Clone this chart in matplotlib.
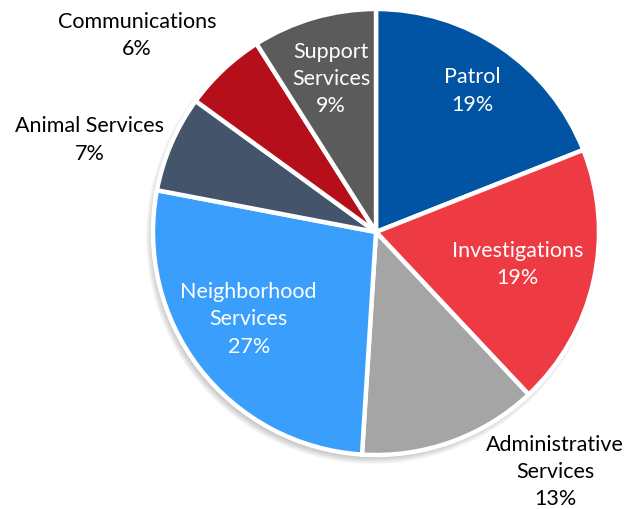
import numpy as np
import matplotlib.pyplot as plt
from matplotlib.patches import Circle

# slices, clockwise from 12 o'clock
names = ['Patrol', 'Investigations', 'Administrative\nServices', 'Neighborhood\nServices',
         'Animal Services', 'Communications', 'Support\nServices']
shares = [19, 19, 13, 27, 7, 6, 9]
colors = ['#0154A4', '#EE3A43', '#A5A5A5', '#3A9FFC', '#44546A', '#B40F1A', '#5B5B5B']

# label placement: fraction of radius, angle shift (deg), inside/outside
label_dist = [0.77, 0.65, 1.34, 0.69, 1.35, 1.39, 0.72]
label_shift = [0, 0, 17, -3.6, 5.4, 7.2, 0]
inside = [True, True, False, True, False, False, True]

W, H = 628, 510
cx, cy, R = 376, H - 233, 223

fig = plt.figure(figsize=(W / 100, H / 100), dpi=100)
ax = fig.add_axes([0, 0, 1, 1])

# soft drop shadow
for i in range(8):
    ax.add_patch(Circle((cx - 3, cy - 5), R + 4 - i * 1.2, color='black',
                        alpha=0.035, lw=0, zorder=0))

wedges, _ = ax.pie(shares, colors=colors, startangle=90, counterclock=False,
                   center=(cx, cy), radius=R, frame=True,
                   wedgeprops=dict(edgecolor='white', linewidth=3.2))
ax.set_xlim(0, W)
ax.set_ylim(0, H)
ax.set_aspect('equal')
ax.axis('off')

for w, n, s, d, sh, ins in zip(wedges, names, shares, label_dist, label_shift, inside):
    ang = np.deg2rad((w.theta1 + w.theta2) / 2 + sh)
    x = cx + R * d * np.cos(ang)
    y = cy + R * d * np.sin(ang)
    ax.text(x, y, f'{n}\n{s}%', ha='center', va='center', fontsize=15.5,
            family='Lato', color='white' if ins else 'black', linespacing=1.45)

fig.savefig('out.png', dpi=100)
